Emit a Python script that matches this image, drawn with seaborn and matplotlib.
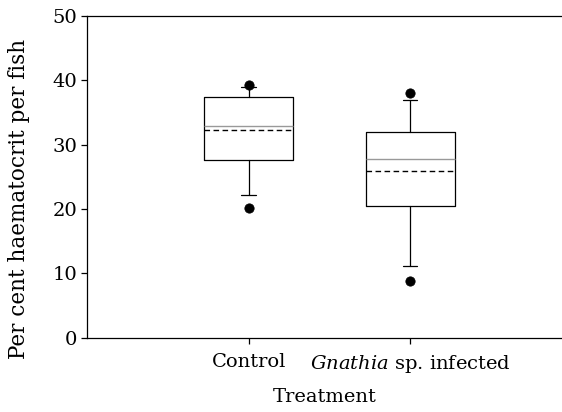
import matplotlib
matplotlib.use("Agg")
import matplotlib.pyplot as plt
import seaborn as sns
import pandas as pd

# Summary values
groups = ["Control", "Gnathia sp. infected"]
tick_labels = ["Control", r"$\mathit{Gnathia}$ sp. infected"]
q1 = [27.6, 20.4]
median = [32.9, 27.7]
mean = [32.2, 25.9]
q3 = [37.4, 32.0]
whisk_lo = [22.2, 11.2]
whisk_hi = [39.0, 36.9]
out_lo = [20.2, 8.8]
out_hi = [39.2, 38.0]

sns.set_style("ticks")
plt.rcParams["font.family"] = ["DejaVu Serif"]
plt.rcParams["mathtext.fontset"] = "dejavuserif"
plt.rcParams["text.color"] = "black"
plt.rcParams["axes.labelcolor"] = "black"

fig = plt.figure(figsize=(5.62, 4.12), dpi=100)
ax = fig.add_axes([0.155, 0.18, 0.845, 0.782])

stats = []
for i, g in enumerate(groups):
    stats.append({
        "label": g, "q1": q1[i], "med": median[i], "mean": mean[i], "q3": q3[i],
        "whislo": whisk_lo[i], "whishi": whisk_hi[i], "fliers": [],
    })

ax.bxp(stats, positions=range(len(groups)), widths=0.55, capwidths=0.09,
       showmeans=True, meanline=True, showfliers=False,
       boxprops=dict(color="black", linewidth=0.9),
       whiskerprops=dict(color="black", linewidth=0.9),
       capprops=dict(color="black", linewidth=0.9),
       medianprops=dict(color="#999999", linewidth=1.0),
       meanprops=dict(color="black", linestyle=(0, (4, 2.5)), linewidth=1.0))

# 5th / 95th percentile points
pts = pd.DataFrame({
    "pos": list(range(len(groups))) * 2,
    "value": out_lo + out_hi,
})
sns.scatterplot(data=pts, x="pos", y="value", ax=ax, color="black", s=45,
                edgecolor="black", zorder=5, legend=False)

ax.set_xlim(-1.0, 1.94)
ax.set_ylim(0, 50)
ax.set_yticks([0, 10, 20, 30, 40, 50])
ax.set_xticks(range(len(groups)))
ax.set_xticklabels(tick_labels)
ax.tick_params(labelsize=14, length=4, width=0.9, colors="black", pad=3)
ax.tick_params(axis="x", pad=7)
ax.set_xlabel("Treatment", fontsize=14, labelpad=9)
ax.set_ylabel("Per cent haematocrit per fish", fontsize=15.5)
ax.yaxis.set_label_coords(-0.12, 0.43)
for s in ["left", "top", "bottom"]:
    ax.spines[s].set_linewidth(0.9)
    ax.spines[s].set_color("black")
ax.spines["right"].set_visible(False)

fig.savefig("out.png", dpi=100)
